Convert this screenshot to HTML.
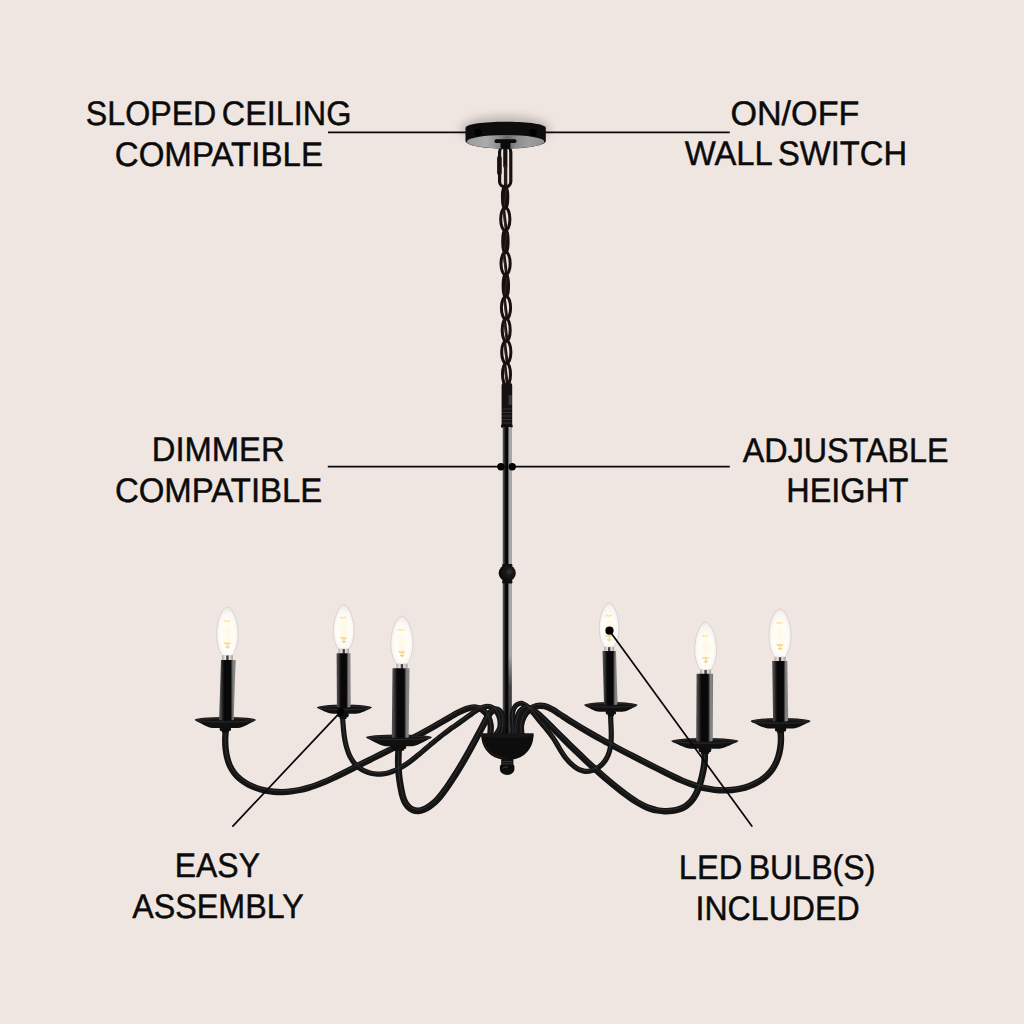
<!DOCTYPE html>
<html lang="en"><head><meta charset="utf-8"><title>Chandelier features</title>
<style>
html,body{margin:0;padding:0;background:#efe6e1;}
body{width:1024px;height:1024px;overflow:hidden;font-family:"Liberation Sans",Arial,sans-serif;}
svg{display:block;}
</style></head><body>
<svg width="1024" height="1024" viewBox="0 0 1024 1024">
<defs>
<radialGradient id="glow" cx="50%" cy="58%" r="55%">
<stop offset="0" stop-color="#ffffff"/><stop offset="0.55" stop-color="#fffefb"/><stop offset="0.85" stop-color="#f8f5f2"/><stop offset="1" stop-color="#efeae6"/>
</radialGradient>
<radialGradient id="fil" cx="50%" cy="50%" r="50%">
<stop offset="0" stop-color="#fff1c0" stop-opacity="0.45"/><stop offset="0.6" stop-color="#fff4d0" stop-opacity="0.25"/><stop offset="1" stop-color="#fff8e0" stop-opacity="0"/>
</radialGradient>
<linearGradient id="metal" x1="0" x2="1" y1="0" y2="0">
<stop offset="0" stop-color="#a9a6a3"/><stop offset="0.35" stop-color="#f3f1ef"/><stop offset="0.75" stop-color="#d9d6d3"/><stop offset="1" stop-color="#9b9896"/>
</linearGradient>
<linearGradient id="sleeve" x1="0" x2="1" y1="0" y2="0">
<stop offset="0" stop-color="#525252"/><stop offset="0.10" stop-color="#464646"/><stop offset="0.24" stop-color="#1a1a1a"/><stop offset="0.32" stop-color="#080808"/><stop offset="0.70" stop-color="#080808"/><stop offset="0.77" stop-color="#454545"/><stop offset="0.84" stop-color="#808080"/><stop offset="0.95" stop-color="#858585"/><stop offset="1" stop-color="#666"/>
</linearGradient>
<linearGradient id="rod" x1="0" x2="1" y1="0" y2="0">
<stop offset="0" stop-color="#555553"/><stop offset="0.12" stop-color="#484848"/><stop offset="0.26" stop-color="#1a1a1a"/><stop offset="0.36" stop-color="#060606"/><stop offset="0.56" stop-color="#050505"/><stop offset="0.63" stop-color="#4a4a4c"/><stop offset="0.71" stop-color="#9fa0a2"/><stop offset="0.88" stop-color="#a4a5a7"/><stop offset="0.95" stop-color="#858585"/><stop offset="1" stop-color="#7a7a7a"/>
</linearGradient>
<radialGradient id="ball" cx="62%" cy="42%" r="60%"><stop offset="0" stop-color="#3a3a3a"/><stop offset="0.35" stop-color="#191919"/><stop offset="1" stop-color="#0b0b0b"/></radialGradient>
<linearGradient id="rodfade" x1="0" x2="0" y1="0" y2="1"><stop offset="0" stop-color="#0a0a0a" stop-opacity="0"/><stop offset="0.4" stop-color="#0a0a0a" stop-opacity="0.62"/><stop offset="1" stop-color="#0a0a0a" stop-opacity="0.7"/></linearGradient>
<linearGradient id="face" x1="0" x2="1" y1="0" y2="0">
<stop offset="0" stop-color="#98999b"/><stop offset="0.25" stop-color="#abacae"/><stop offset="0.42" stop-color="#8a8b8d"/><stop offset="0.52" stop-color="#66676a"/><stop offset="0.64" stop-color="#8c8d8f"/><stop offset="0.8" stop-color="#9c9d9f"/><stop offset="1" stop-color="#8f9092"/>
</linearGradient>
<filter id="soft" x="-50%" y="-50%" width="200%" height="200%"><feGaussianBlur stdDeviation="0.55"/></filter>
<filter id="blur" x="-30%" y="-100%" width="160%" height="300%"><feGaussianBlur stdDeviation="5"/></filter>
</defs>
<rect width="1024" height="1024" fill="#efe6e1"/>
<ellipse cx="505.5" cy="129" rx="45" ry="13" fill="#5f5650" opacity="0.34" filter="url(#blur)"/>
<g stroke="#0a0a0a" stroke-width="1.65" fill="none">
<line x1="328" y1="132.4" x2="478" y2="132.4"/>
<line x1="533.2" y1="132.4" x2="729.8" y2="132.4"/>
<line x1="327.8" y1="466.6" x2="500" y2="466.6"/>
<line x1="512" y1="466.6" x2="729.8" y2="466.6"/>
</g>
<g stroke="#15110f" fill="none" stroke-linecap="round">
<rect x="499.6" y="146.5" width="11.2" height="40.5" rx="5.4" stroke-width="3.2"/>
<line x1="499.4" y1="158" x2="499.4" y2="173" stroke-width="4.6"/>
<line x1="505.3" y1="146" x2="505.3" y2="166" stroke-width="4.2"/>
<line x1="505.6" y1="166" x2="505.6" y2="185" stroke-width="3.4" stroke="#2a1d17"/>
<ellipse cx="505.1" cy="197.1" rx="2.5" ry="11.2" stroke-width="3.4" fill="#15110f"/>
<line x1="506.3" y1="189.1" x2="504.3" y2="205.1" stroke-width="1.0" stroke="#4a2c1f" opacity="0.8"/>
<ellipse cx="505.3" cy="219.2" rx="4.6" ry="11.4" stroke-width="3.0"/>
<line x1="503.7" y1="209.2" x2="506.1" y2="229.2" stroke-width="2.8" stroke="#1c1411"/>
<line x1="503.1" y1="212.2" x2="505.1" y2="226.2" stroke-width="0.9" stroke="#5a3323" opacity="0.75"/>
<ellipse cx="505.4" cy="241.4" rx="2.5" ry="11.2" stroke-width="3.4" fill="#15110f"/>
<line x1="506.6" y1="233.4" x2="504.6" y2="249.4" stroke-width="1.0" stroke="#4a2c1f" opacity="0.8"/>
<ellipse cx="505.6" cy="263.5" rx="4.6" ry="11.4" stroke-width="3.0"/>
<line x1="504.0" y1="253.5" x2="506.4" y2="273.5" stroke-width="2.8" stroke="#1c1411"/>
<line x1="503.4" y1="256.5" x2="505.4" y2="270.5" stroke-width="0.9" stroke="#5a3323" opacity="0.75"/>
<ellipse cx="505.8" cy="285.7" rx="2.5" ry="11.2" stroke-width="3.4" fill="#15110f"/>
<line x1="507.0" y1="277.7" x2="505.0" y2="293.7" stroke-width="1.0" stroke="#4a2c1f" opacity="0.8"/>
<ellipse cx="506.0" cy="307.8" rx="4.6" ry="11.4" stroke-width="3.0"/>
<line x1="504.4" y1="297.8" x2="506.8" y2="317.8" stroke-width="2.8" stroke="#1c1411"/>
<line x1="503.8" y1="300.8" x2="505.8" y2="314.8" stroke-width="0.9" stroke="#5a3323" opacity="0.75"/>
<ellipse cx="506.2" cy="330.0" rx="4.0" ry="11.4" stroke-width="3.0"/>
<line x1="504.6" y1="320.0" x2="507.0" y2="340.0" stroke-width="2.8" stroke="#1c1411"/>
<line x1="504.0" y1="323.0" x2="506.0" y2="337.0" stroke-width="0.9" stroke="#5a3323" opacity="0.75"/>
<ellipse cx="506.3" cy="352.1" rx="4.6" ry="11.4" stroke-width="3.0"/>
<line x1="504.7" y1="342.1" x2="507.1" y2="362.1" stroke-width="2.8" stroke="#1c1411"/>
<line x1="504.1" y1="345.1" x2="506.1" y2="359.1" stroke-width="0.9" stroke="#5a3323" opacity="0.75"/>
<ellipse cx="506.5" cy="374.3" rx="4.0" ry="11.4" stroke-width="3.0"/>
<line x1="504.9" y1="364.3" x2="507.3" y2="384.3" stroke-width="2.8" stroke="#1c1411"/>
<line x1="504.3" y1="367.3" x2="506.3" y2="381.3" stroke-width="0.9" stroke="#5a3323" opacity="0.75"/>
</g>
<rect x="495" y="139.5" width="21" height="3.6" rx="1.5" fill="#0c0c0c"/>
<rect x="501" y="141" width="9" height="8" rx="2" fill="#0c0c0c"/>
<path d="M465.5 128 C465.5 124 485 121.8 505.5 121.8 C526 121.8 545.8 124 545.8 128 L545.8 141 C545.8 145.5 526 148.6 505.5 148.6 C485 148.6 465.5 145.5 465.5 141 Z" fill="#0d0d0d"/>
<ellipse cx="505.6" cy="141.7" rx="38.8" ry="6.75" fill="url(#face)"/>
<rect x="494.5" y="139.3" width="22" height="3.8" rx="1.8" fill="#0a0a0a"/>
<rect x="500.5" y="141" width="10" height="8" rx="2" fill="#0a0a0a"/>
<circle cx="478" cy="132.4" r="3.7" fill="#000"/><circle cx="533.2" cy="132.4" r="3.7" fill="#000"/>
<rect x="501.6" y="383" width="10.6" height="44.5" rx="2" fill="#141312"/>
<rect x="508.5" y="395" width="3.4" height="10" fill="#3b3936"/>
<g stroke="#45423f" stroke-width="0.7">
<line x1="502.5" y1="409.0" x2="511.5" y2="409.0"/>
<line x1="502.5" y1="412.5" x2="511.5" y2="412.5"/>
<line x1="502.5" y1="416.0" x2="511.5" y2="416.0"/>
<line x1="502.5" y1="419.5" x2="511.5" y2="419.5"/>
<line x1="502.5" y1="423.0" x2="511.5" y2="423.0"/>
</g>
<rect x="501" y="424.5" width="11.6" height="3.2" rx="1" fill="#0e0e0e"/>
<rect x="502.7" y="427" width="8.9" height="307" fill="url(#rod)"/>
<rect x="506.8" y="655" width="5" height="79" fill="url(#rodfade)"/>
<rect x="502.2" y="564" width="10.2" height="3" rx="1" fill="#101010"/><rect x="502.2" y="580" width="10.2" height="3.4" rx="1" fill="#101010"/>
<ellipse cx="507.25" cy="573.1" rx="8.6" ry="8.4" fill="url(#ball)"/>
<circle cx="500.9" cy="466.7" r="3.7" fill="#000"/><circle cx="512.2" cy="466.7" r="3.7" fill="#000"/>
<g fill="none" stroke="#141414" stroke-linecap="round" stroke-linejoin="round">
<path d="M496.15 734.02 C496.70 733.13 498.76 730.63 499.43 728.67 C500.09 726.71 500.27 724.41 500.15 722.27 C500.03 720.13 499.48 717.81 498.71 715.84 C497.94 713.86 496.81 711.88 495.51 710.42 C494.22 708.95 492.63 707.68 490.95 707.04 C489.27 706.41 487.32 706.35 485.44 706.61 C483.57 706.88 481.55 707.76 479.69 708.65 C477.84 709.54 476.06 710.78 474.31 711.95 C472.55 713.13 470.87 714.47 469.15 715.71 C467.44 716.96 465.73 718.19 464.03 719.41 C462.33 720.62 460.62 721.81 458.93 723.00 C457.24 724.19 455.56 725.37 453.89 726.55 C452.21 727.74 450.55 728.91 448.91 730.11 C447.26 731.30 445.63 732.49 444.02 733.71 C442.41 734.93 440.82 736.16 439.25 737.41 C437.67 738.66 436.13 739.93 434.57 741.22 C433.02 742.50 431.49 743.81 429.94 745.12 C428.39 746.43 426.85 747.76 425.28 749.09 C423.71 750.43 422.14 751.77 420.54 753.11 C418.93 754.45 417.31 755.82 415.66 757.14 C414.00 758.47 412.32 759.80 410.62 761.06 C408.91 762.32 407.18 763.57 405.42 764.72 C403.67 765.88 401.88 766.99 400.07 767.98 C398.26 768.98 396.41 769.91 394.55 770.69 C392.68 771.48 390.78 772.18 388.85 772.71 C386.93 773.24 384.97 773.66 382.99 773.89 C381.00 774.11 378.97 774.19 376.94 774.08 C374.92 773.96 372.83 773.66 370.83 773.19 C368.83 772.71 366.82 772.05 364.94 771.21 C363.07 770.38 361.23 769.36 359.59 768.17 C357.94 766.97 356.42 765.58 355.06 764.05 C353.71 762.53 352.52 760.81 351.46 759.03 C350.39 757.25 349.48 755.32 348.67 753.38 C347.86 751.44 347.19 749.40 346.60 747.39 C346.02 745.38 345.55 743.34 345.15 741.34 C344.74 739.33 344.44 737.35 344.17 735.36 C343.90 733.36 343.71 731.38 343.51 729.37 C343.32 727.36 343.18 725.35 343.01 723.28 C342.84 721.22 342.59 718.05 342.50 717.00" stroke-width="5.2"/>
<path d="M513.00 733.93 C513.02 733.16 513.19 730.98 513.14 729.32 C513.09 727.65 512.84 725.78 512.70 723.94 C512.56 722.10 512.33 720.13 512.31 718.27 C512.29 716.41 512.28 714.50 512.58 712.78 C512.88 711.06 513.33 709.36 514.13 707.96 C514.94 706.56 516.15 705.15 517.42 704.38 C518.69 703.60 520.31 703.09 521.77 703.30 C523.23 703.52 524.77 704.64 526.16 705.67 C527.55 706.69 528.87 708.17 530.11 709.46 C531.35 710.75 532.48 712.09 533.61 713.42 C534.73 714.75 535.78 716.11 536.86 717.46 C537.94 718.81 538.99 720.17 540.09 721.52 C541.18 722.87 542.31 724.22 543.43 725.57 C544.55 726.92 545.69 728.27 546.80 729.63 C547.90 730.98 549.01 732.35 550.06 733.73 C551.11 735.11 552.12 736.50 553.08 737.91 C554.03 739.32 554.91 740.75 555.78 742.19 C556.66 743.63 557.48 745.08 558.33 746.53 C559.19 747.98 560.01 749.44 560.91 750.88 C561.81 752.33 562.71 753.77 563.71 755.19 C564.71 756.61 565.76 758.04 566.91 759.40 C568.07 760.77 569.32 762.15 570.63 763.40 C571.94 764.64 573.34 765.85 574.78 766.88 C576.23 767.91 577.74 768.85 579.29 769.56 C580.83 770.26 582.43 770.84 584.04 771.12 C585.64 771.41 587.31 771.47 588.94 771.27 C590.57 771.07 592.25 770.57 593.84 769.92 C595.42 769.26 597.01 768.36 598.45 767.35 C599.90 766.34 601.29 765.13 602.50 763.87 C603.71 762.61 604.79 761.22 605.72 759.79 C606.65 758.36 607.41 756.84 608.07 755.28 C608.73 753.72 609.25 752.09 609.68 750.43 C610.11 748.77 610.42 747.06 610.66 745.33 C610.91 743.60 611.05 741.82 611.15 740.05 C611.26 738.28 611.28 736.48 611.28 734.69 C611.28 732.90 611.22 731.10 611.17 729.32 C611.11 727.55 611.01 725.78 610.94 724.05 C610.86 722.32 610.77 720.60 610.72 718.94 C610.67 717.28 610.66 714.89 610.65 714.09" stroke-width="5.2"/>
<path d="M490.39 734.07 C490.43 732.57 491.05 728.06 490.65 725.11 C490.24 722.15 489.34 718.86 487.96 716.32 C486.58 713.78 484.56 711.35 482.37 709.86 C480.17 708.37 477.47 707.54 474.78 707.38 C472.09 707.22 469.05 708.03 466.22 708.92 C463.39 709.81 460.49 711.32 457.78 712.70 C455.08 714.08 452.55 715.69 449.99 717.18 C447.42 718.67 444.93 720.16 442.41 721.62 C439.89 723.07 437.39 724.50 434.86 725.93 C432.33 727.35 429.80 728.77 427.24 730.18 C424.67 731.59 422.09 733.00 419.49 734.40 C416.90 735.80 414.28 737.20 411.66 738.58 C409.04 739.97 406.41 741.34 403.78 742.71 C401.15 744.07 398.52 745.43 395.89 746.77 C393.26 748.11 390.63 749.43 388.02 750.75 C385.40 752.06 382.79 753.35 380.19 754.65 C377.58 755.95 374.98 757.23 372.38 758.52 C369.77 759.81 367.17 761.10 364.56 762.41 C361.95 763.71 359.34 765.03 356.72 766.36 C354.09 767.69 351.46 769.05 348.82 770.39 C346.18 771.73 343.52 773.08 340.86 774.39 C338.19 775.70 335.51 777.01 332.82 778.26 C330.13 779.51 327.42 780.73 324.70 781.87 C321.98 783.01 319.24 784.12 316.48 785.12 C313.72 786.12 310.95 787.05 308.15 787.87 C305.36 788.69 302.55 789.43 299.71 790.03 C296.87 790.63 294.02 791.13 291.13 791.47 C288.25 791.81 285.35 792.03 282.42 792.08 C279.49 792.12 276.52 792.03 273.56 791.74 C270.59 791.45 267.56 791.00 264.63 790.35 C261.69 789.71 258.73 788.89 255.93 787.87 C253.12 786.85 250.35 785.65 247.78 784.24 C245.22 782.83 242.74 781.23 240.53 779.41 C238.31 777.60 236.24 775.58 234.49 773.34 C232.73 771.11 231.21 768.62 229.98 765.99 C228.75 763.36 227.83 760.46 227.10 757.55 C226.37 754.64 225.92 751.55 225.60 748.54 C225.29 745.54 225.20 742.44 225.21 739.53 C225.23 736.61 225.59 732.46 225.67 731.05" stroke-width="6.3"/>
<path d="M521.29 734.09 C521.24 732.64 520.58 728.28 521.00 725.36 C521.42 722.45 522.43 719.23 523.81 716.62 C525.18 714.01 527.12 711.47 529.26 709.72 C531.40 707.96 534.07 706.68 536.64 706.09 C539.20 705.50 542.02 705.60 544.65 706.17 C547.28 706.73 549.88 708.13 552.43 709.50 C554.98 710.87 557.47 712.76 559.95 714.38 C562.42 716.00 564.84 717.66 567.27 719.23 C569.70 720.80 572.11 722.31 574.55 723.82 C576.98 725.32 579.43 726.81 581.89 728.28 C584.35 729.74 586.83 731.19 589.32 732.63 C591.80 734.07 594.30 735.49 596.81 736.89 C599.31 738.30 601.83 739.69 604.35 741.08 C606.88 742.46 609.41 743.83 611.95 745.19 C614.50 746.55 617.04 747.90 619.60 749.24 C622.15 750.58 624.71 751.91 627.28 753.24 C629.84 754.57 632.41 755.89 634.98 757.21 C637.55 758.53 640.13 759.84 642.71 761.15 C645.28 762.46 647.86 763.77 650.44 765.08 C653.02 766.38 655.60 767.69 658.18 769.00 C660.76 770.30 663.34 771.63 665.92 772.92 C668.50 774.21 671.09 775.51 673.69 776.74 C676.29 777.98 678.89 779.20 681.53 780.34 C684.16 781.48 686.81 782.59 689.49 783.58 C692.17 784.58 694.87 785.52 697.62 786.33 C700.36 787.14 703.14 787.86 705.96 788.44 C708.78 789.02 711.65 789.49 714.53 789.81 C717.40 790.12 720.32 790.32 723.22 790.34 C726.12 790.37 729.04 790.25 731.93 789.96 C734.82 789.67 737.71 789.23 740.54 788.60 C743.38 787.97 746.22 787.17 748.94 786.17 C751.66 785.18 754.35 784.01 756.87 782.64 C759.39 781.27 761.83 779.71 764.04 777.95 C766.26 776.19 768.34 774.23 770.16 772.07 C771.97 769.91 773.58 767.50 774.93 764.97 C776.28 762.44 777.38 759.66 778.26 756.87 C779.15 754.08 779.80 751.12 780.25 748.21 C780.71 745.31 780.94 742.31 780.99 739.45 C781.05 736.59 780.65 732.43 780.58 731.03" stroke-width="6.4"/>
<path d="M501.17 733.94 C501.39 733.04 502.15 730.51 502.46 728.54 C502.76 726.57 503.08 724.23 503.01 722.11 C502.95 719.99 502.72 717.67 502.06 715.80 C501.39 713.94 500.25 711.94 499.00 710.93 C497.76 709.92 496.04 709.43 494.59 709.74 C493.13 710.05 491.54 711.44 490.28 712.79 C489.02 714.14 488.06 716.10 487.04 717.85 C486.02 719.61 485.11 721.51 484.16 723.32 C483.21 725.13 482.26 726.93 481.32 728.71 C480.38 730.49 479.44 732.26 478.51 734.02 C477.57 735.78 476.64 737.53 475.70 739.27 C474.77 741.01 473.84 742.74 472.90 744.46 C471.97 746.18 471.03 747.88 470.08 749.59 C469.14 751.29 468.19 752.98 467.24 754.67 C466.28 756.36 465.32 758.04 464.35 759.71 C463.38 761.39 462.40 763.05 461.41 764.72 C460.41 766.38 459.41 768.04 458.39 769.70 C457.38 771.35 456.35 773.01 455.30 774.66 C454.25 776.31 453.19 777.95 452.10 779.60 C451.02 781.25 449.92 782.89 448.80 784.54 C447.68 786.18 446.54 787.84 445.37 789.47 C444.20 791.10 443.01 792.75 441.77 794.33 C440.52 795.90 439.25 797.46 437.91 798.92 C436.57 800.38 435.19 801.79 433.72 803.08 C432.25 804.36 430.73 805.57 429.11 806.61 C427.49 807.66 425.78 808.64 423.99 809.35 C422.20 810.07 420.25 810.82 418.36 810.91 C416.47 811.00 414.41 810.64 412.66 809.89 C410.91 809.14 409.21 807.80 407.87 806.42 C406.53 805.04 405.51 803.33 404.63 801.59 C403.74 799.84 403.14 797.87 402.57 795.93 C402.01 793.99 401.64 791.93 401.24 789.95 C400.84 787.98 400.51 786.03 400.20 784.10 C399.88 782.17 399.58 780.31 399.33 778.40 C399.09 776.49 398.88 774.58 398.72 772.64 C398.56 770.69 398.45 768.71 398.38 766.73 C398.31 764.75 398.28 762.74 398.28 760.76 C398.29 758.77 398.33 756.78 398.40 754.82 C398.47 752.86 398.65 749.97 398.70 749.00" stroke-width="6.7"/>
<path d="M516.05 734.03 C516.02 732.92 515.71 729.88 515.89 727.37 C516.08 724.86 516.43 721.59 517.16 718.97 C517.88 716.36 518.86 713.48 520.23 711.68 C521.61 709.89 523.50 708.57 525.41 708.22 C527.32 707.87 529.59 708.59 531.70 709.58 C533.80 710.56 536.00 712.47 538.02 714.11 C540.04 715.74 541.99 717.66 543.84 719.40 C545.69 721.14 547.41 722.84 549.14 724.55 C550.88 726.26 552.55 727.95 554.25 729.66 C555.96 731.36 557.66 733.07 559.38 734.77 C561.09 736.48 562.81 738.19 564.54 739.90 C566.26 741.61 568.00 743.32 569.74 745.03 C571.48 746.74 573.23 748.45 574.98 750.15 C576.74 751.85 578.50 753.55 580.28 755.24 C582.05 756.94 583.84 758.63 585.63 760.31 C587.42 761.99 589.22 763.66 591.04 765.33 C592.85 766.99 594.68 768.65 596.51 770.30 C598.35 771.94 600.20 773.58 602.05 775.20 C603.91 776.82 605.79 778.43 607.67 780.02 C609.56 781.62 611.45 783.20 613.36 784.77 C615.28 786.33 617.20 787.88 619.14 789.41 C621.08 790.94 623.03 792.46 625.01 793.94 C626.98 795.42 628.96 796.90 630.99 798.29 C633.01 799.68 635.05 801.04 637.14 802.28 C639.23 803.52 641.35 804.71 643.53 805.74 C645.71 806.78 647.93 807.73 650.22 808.50 C652.51 809.27 654.86 809.93 657.27 810.38 C659.68 810.83 662.21 811.12 664.71 811.20 C667.21 811.27 669.82 811.17 672.29 810.82 C674.76 810.47 677.26 809.92 679.55 809.10 C681.83 808.28 684.06 807.24 686.02 805.92 C687.99 804.59 689.75 802.97 691.32 801.17 C692.88 799.37 694.21 797.29 695.41 795.13 C696.62 792.97 697.62 790.60 698.53 788.23 C699.44 785.87 700.18 783.36 700.86 780.93 C701.55 778.50 702.11 776.05 702.62 773.67 C703.14 771.29 703.59 769.01 703.93 766.67 C704.27 764.32 704.55 762.03 704.67 759.59 C704.80 757.14 704.69 753.25 704.70 751.98" stroke-width="6.6"/>
</g>
<g fill="none" stroke="#3c3c3c" stroke-linecap="round" stroke-width="0.9" opacity="0.8">
<path d="M496.15 734.02 C496.70 733.13 498.76 730.63 499.43 728.67 C500.09 726.71 500.27 724.41 500.15 722.27 C500.03 720.13 499.48 717.81 498.71 715.84 C497.94 713.86 496.81 711.88 495.51 710.42 C494.22 708.95 492.63 707.68 490.95 707.04 C489.27 706.41 487.32 706.35 485.44 706.61 C483.57 706.88 481.55 707.76 479.69 708.65 C477.84 709.54 476.06 710.78 474.31 711.95 C472.55 713.13 470.87 714.47 469.15 715.71 C467.44 716.96 465.73 718.19 464.03 719.41 C462.33 720.62 460.62 721.81 458.93 723.00 C457.24 724.19 455.56 725.37 453.89 726.55 C452.21 727.74 450.55 728.91 448.91 730.11 C447.26 731.30 445.63 732.49 444.02 733.71 C442.41 734.93 440.82 736.16 439.25 737.41 C437.67 738.66 436.13 739.93 434.57 741.22 C433.02 742.50 431.49 743.81 429.94 745.12 C428.39 746.43 426.85 747.76 425.28 749.09 C423.71 750.43 422.14 751.77 420.54 753.11 C418.93 754.45 417.31 755.82 415.66 757.14 C414.00 758.47 412.32 759.80 410.62 761.06 C408.91 762.32 407.18 763.57 405.42 764.72 C403.67 765.88 401.88 766.99 400.07 767.98 C398.26 768.98 396.41 769.91 394.55 770.69 C392.68 771.48 390.78 772.18 388.85 772.71 C386.93 773.24 384.97 773.66 382.99 773.89 C381.00 774.11 378.97 774.19 376.94 774.08 C374.92 773.96 372.83 773.66 370.83 773.19 C368.83 772.71 366.82 772.05 364.94 771.21 C363.07 770.38 361.23 769.36 359.59 768.17 C357.94 766.97 356.42 765.58 355.06 764.05 C353.71 762.53 352.52 760.81 351.46 759.03 C350.39 757.25 349.48 755.32 348.67 753.38 C347.86 751.44 347.19 749.40 346.60 747.39 C346.02 745.38 345.55 743.34 345.15 741.34 C344.74 739.33 344.44 737.35 344.17 735.36 C343.90 733.36 343.71 731.38 343.51 729.37 C343.32 727.36 343.18 725.35 343.01 723.28 C342.84 721.22 342.59 718.05 342.50 717.00" transform="translate(0,-1.1)"/>
<path d="M513.00 733.93 C513.02 733.16 513.19 730.98 513.14 729.32 C513.09 727.65 512.84 725.78 512.70 723.94 C512.56 722.10 512.33 720.13 512.31 718.27 C512.29 716.41 512.28 714.50 512.58 712.78 C512.88 711.06 513.33 709.36 514.13 707.96 C514.94 706.56 516.15 705.15 517.42 704.38 C518.69 703.60 520.31 703.09 521.77 703.30 C523.23 703.52 524.77 704.64 526.16 705.67 C527.55 706.69 528.87 708.17 530.11 709.46 C531.35 710.75 532.48 712.09 533.61 713.42 C534.73 714.75 535.78 716.11 536.86 717.46 C537.94 718.81 538.99 720.17 540.09 721.52 C541.18 722.87 542.31 724.22 543.43 725.57 C544.55 726.92 545.69 728.27 546.80 729.63 C547.90 730.98 549.01 732.35 550.06 733.73 C551.11 735.11 552.12 736.50 553.08 737.91 C554.03 739.32 554.91 740.75 555.78 742.19 C556.66 743.63 557.48 745.08 558.33 746.53 C559.19 747.98 560.01 749.44 560.91 750.88 C561.81 752.33 562.71 753.77 563.71 755.19 C564.71 756.61 565.76 758.04 566.91 759.40 C568.07 760.77 569.32 762.15 570.63 763.40 C571.94 764.64 573.34 765.85 574.78 766.88 C576.23 767.91 577.74 768.85 579.29 769.56 C580.83 770.26 582.43 770.84 584.04 771.12 C585.64 771.41 587.31 771.47 588.94 771.27 C590.57 771.07 592.25 770.57 593.84 769.92 C595.42 769.26 597.01 768.36 598.45 767.35 C599.90 766.34 601.29 765.13 602.50 763.87 C603.71 762.61 604.79 761.22 605.72 759.79 C606.65 758.36 607.41 756.84 608.07 755.28 C608.73 753.72 609.25 752.09 609.68 750.43 C610.11 748.77 610.42 747.06 610.66 745.33 C610.91 743.60 611.05 741.82 611.15 740.05 C611.26 738.28 611.28 736.48 611.28 734.69 C611.28 732.90 611.22 731.10 611.17 729.32 C611.11 727.55 611.01 725.78 610.94 724.05 C610.86 722.32 610.77 720.60 610.72 718.94 C610.67 717.28 610.66 714.89 610.65 714.09" transform="translate(0,-1.1)"/>
<path d="M490.39 734.07 C490.43 732.57 491.05 728.06 490.65 725.11 C490.24 722.15 489.34 718.86 487.96 716.32 C486.58 713.78 484.56 711.35 482.37 709.86 C480.17 708.37 477.47 707.54 474.78 707.38 C472.09 707.22 469.05 708.03 466.22 708.92 C463.39 709.81 460.49 711.32 457.78 712.70 C455.08 714.08 452.55 715.69 449.99 717.18 C447.42 718.67 444.93 720.16 442.41 721.62 C439.89 723.07 437.39 724.50 434.86 725.93 C432.33 727.35 429.80 728.77 427.24 730.18 C424.67 731.59 422.09 733.00 419.49 734.40 C416.90 735.80 414.28 737.20 411.66 738.58 C409.04 739.97 406.41 741.34 403.78 742.71 C401.15 744.07 398.52 745.43 395.89 746.77 C393.26 748.11 390.63 749.43 388.02 750.75 C385.40 752.06 382.79 753.35 380.19 754.65 C377.58 755.95 374.98 757.23 372.38 758.52 C369.77 759.81 367.17 761.10 364.56 762.41 C361.95 763.71 359.34 765.03 356.72 766.36 C354.09 767.69 351.46 769.05 348.82 770.39 C346.18 771.73 343.52 773.08 340.86 774.39 C338.19 775.70 335.51 777.01 332.82 778.26 C330.13 779.51 327.42 780.73 324.70 781.87 C321.98 783.01 319.24 784.12 316.48 785.12 C313.72 786.12 310.95 787.05 308.15 787.87 C305.36 788.69 302.55 789.43 299.71 790.03 C296.87 790.63 294.02 791.13 291.13 791.47 C288.25 791.81 285.35 792.03 282.42 792.08 C279.49 792.12 276.52 792.03 273.56 791.74 C270.59 791.45 267.56 791.00 264.63 790.35 C261.69 789.71 258.73 788.89 255.93 787.87 C253.12 786.85 250.35 785.65 247.78 784.24 C245.22 782.83 242.74 781.23 240.53 779.41 C238.31 777.60 236.24 775.58 234.49 773.34 C232.73 771.11 231.21 768.62 229.98 765.99 C228.75 763.36 227.83 760.46 227.10 757.55 C226.37 754.64 225.92 751.55 225.60 748.54 C225.29 745.54 225.20 742.44 225.21 739.53 C225.23 736.61 225.59 732.46 225.67 731.05" transform="translate(0,-1.4)"/>
<path d="M521.29 734.09 C521.24 732.64 520.58 728.28 521.00 725.36 C521.42 722.45 522.43 719.23 523.81 716.62 C525.18 714.01 527.12 711.47 529.26 709.72 C531.40 707.96 534.07 706.68 536.64 706.09 C539.20 705.50 542.02 705.60 544.65 706.17 C547.28 706.73 549.88 708.13 552.43 709.50 C554.98 710.87 557.47 712.76 559.95 714.38 C562.42 716.00 564.84 717.66 567.27 719.23 C569.70 720.80 572.11 722.31 574.55 723.82 C576.98 725.32 579.43 726.81 581.89 728.28 C584.35 729.74 586.83 731.19 589.32 732.63 C591.80 734.07 594.30 735.49 596.81 736.89 C599.31 738.30 601.83 739.69 604.35 741.08 C606.88 742.46 609.41 743.83 611.95 745.19 C614.50 746.55 617.04 747.90 619.60 749.24 C622.15 750.58 624.71 751.91 627.28 753.24 C629.84 754.57 632.41 755.89 634.98 757.21 C637.55 758.53 640.13 759.84 642.71 761.15 C645.28 762.46 647.86 763.77 650.44 765.08 C653.02 766.38 655.60 767.69 658.18 769.00 C660.76 770.30 663.34 771.63 665.92 772.92 C668.50 774.21 671.09 775.51 673.69 776.74 C676.29 777.98 678.89 779.20 681.53 780.34 C684.16 781.48 686.81 782.59 689.49 783.58 C692.17 784.58 694.87 785.52 697.62 786.33 C700.36 787.14 703.14 787.86 705.96 788.44 C708.78 789.02 711.65 789.49 714.53 789.81 C717.40 790.12 720.32 790.32 723.22 790.34 C726.12 790.37 729.04 790.25 731.93 789.96 C734.82 789.67 737.71 789.23 740.54 788.60 C743.38 787.97 746.22 787.17 748.94 786.17 C751.66 785.18 754.35 784.01 756.87 782.64 C759.39 781.27 761.83 779.71 764.04 777.95 C766.26 776.19 768.34 774.23 770.16 772.07 C771.97 769.91 773.58 767.50 774.93 764.97 C776.28 762.44 777.38 759.66 778.26 756.87 C779.15 754.08 779.80 751.12 780.25 748.21 C780.71 745.31 780.94 742.31 780.99 739.45 C781.05 736.59 780.65 732.43 780.58 731.03" transform="translate(0,-1.4)"/>
<path d="M501.17 733.94 C501.39 733.04 502.15 730.51 502.46 728.54 C502.76 726.57 503.08 724.23 503.01 722.11 C502.95 719.99 502.72 717.67 502.06 715.80 C501.39 713.94 500.25 711.94 499.00 710.93 C497.76 709.92 496.04 709.43 494.59 709.74 C493.13 710.05 491.54 711.44 490.28 712.79 C489.02 714.14 488.06 716.10 487.04 717.85 C486.02 719.61 485.11 721.51 484.16 723.32 C483.21 725.13 482.26 726.93 481.32 728.71 C480.38 730.49 479.44 732.26 478.51 734.02 C477.57 735.78 476.64 737.53 475.70 739.27 C474.77 741.01 473.84 742.74 472.90 744.46 C471.97 746.18 471.03 747.88 470.08 749.59 C469.14 751.29 468.19 752.98 467.24 754.67 C466.28 756.36 465.32 758.04 464.35 759.71 C463.38 761.39 462.40 763.05 461.41 764.72 C460.41 766.38 459.41 768.04 458.39 769.70 C457.38 771.35 456.35 773.01 455.30 774.66 C454.25 776.31 453.19 777.95 452.10 779.60 C451.02 781.25 449.92 782.89 448.80 784.54 C447.68 786.18 446.54 787.84 445.37 789.47 C444.20 791.10 443.01 792.75 441.77 794.33 C440.52 795.90 439.25 797.46 437.91 798.92 C436.57 800.38 435.19 801.79 433.72 803.08 C432.25 804.36 430.73 805.57 429.11 806.61 C427.49 807.66 425.78 808.64 423.99 809.35 C422.20 810.07 420.25 810.82 418.36 810.91 C416.47 811.00 414.41 810.64 412.66 809.89 C410.91 809.14 409.21 807.80 407.87 806.42 C406.53 805.04 405.51 803.33 404.63 801.59 C403.74 799.84 403.14 797.87 402.57 795.93 C402.01 793.99 401.64 791.93 401.24 789.95 C400.84 787.98 400.51 786.03 400.20 784.10 C399.88 782.17 399.58 780.31 399.33 778.40 C399.09 776.49 398.88 774.58 398.72 772.64 C398.56 770.69 398.45 768.71 398.38 766.73 C398.31 764.75 398.28 762.74 398.28 760.76 C398.29 758.77 398.33 756.78 398.40 754.82 C398.47 752.86 398.65 749.97 398.70 749.00" transform="translate(0,-1.5)"/>
<path d="M516.05 734.03 C516.02 732.92 515.71 729.88 515.89 727.37 C516.08 724.86 516.43 721.59 517.16 718.97 C517.88 716.36 518.86 713.48 520.23 711.68 C521.61 709.89 523.50 708.57 525.41 708.22 C527.32 707.87 529.59 708.59 531.70 709.58 C533.80 710.56 536.00 712.47 538.02 714.11 C540.04 715.74 541.99 717.66 543.84 719.40 C545.69 721.14 547.41 722.84 549.14 724.55 C550.88 726.26 552.55 727.95 554.25 729.66 C555.96 731.36 557.66 733.07 559.38 734.77 C561.09 736.48 562.81 738.19 564.54 739.90 C566.26 741.61 568.00 743.32 569.74 745.03 C571.48 746.74 573.23 748.45 574.98 750.15 C576.74 751.85 578.50 753.55 580.28 755.24 C582.05 756.94 583.84 758.63 585.63 760.31 C587.42 761.99 589.22 763.66 591.04 765.33 C592.85 766.99 594.68 768.65 596.51 770.30 C598.35 771.94 600.20 773.58 602.05 775.20 C603.91 776.82 605.79 778.43 607.67 780.02 C609.56 781.62 611.45 783.20 613.36 784.77 C615.28 786.33 617.20 787.88 619.14 789.41 C621.08 790.94 623.03 792.46 625.01 793.94 C626.98 795.42 628.96 796.90 630.99 798.29 C633.01 799.68 635.05 801.04 637.14 802.28 C639.23 803.52 641.35 804.71 643.53 805.74 C645.71 806.78 647.93 807.73 650.22 808.50 C652.51 809.27 654.86 809.93 657.27 810.38 C659.68 810.83 662.21 811.12 664.71 811.20 C667.21 811.27 669.82 811.17 672.29 810.82 C674.76 810.47 677.26 809.92 679.55 809.10 C681.83 808.28 684.06 807.24 686.02 805.92 C687.99 804.59 689.75 802.97 691.32 801.17 C692.88 799.37 694.21 797.29 695.41 795.13 C696.62 792.97 697.62 790.60 698.53 788.23 C699.44 785.87 700.18 783.36 700.86 780.93 C701.55 778.50 702.11 776.05 702.62 773.67 C703.14 771.29 703.59 769.01 703.93 766.67 C704.27 764.32 704.55 762.03 704.67 759.59 C704.80 757.14 704.69 753.25 704.70 751.98" transform="translate(0,-1.5)"/>
</g>
<path d="M481.2 734.5 L533.5 734.5 C533.6 743 530 750.5 524 755 C519 758.6 513 760 507.4 760 C501.8 760 495.8 758.6 490.8 755 C484.8 750.5 481.1 743 481.2 734.5 Z" fill="#0d0d0d"/>
<path d="M481.2 733.2 L533.5 733.2 L533.5 736.4 C525 738.2 490 738.2 481.2 736.4 Z" fill="#161616"/>
<path d="M484 742 C487 752 496 758 507 758.6" fill="none" stroke="#2b2b2b" stroke-width="1" opacity="0.7"/>
<rect x="501.2" y="758.5" width="12.2" height="7.5" rx="1.5" fill="#0e0e0e"/>
<g stroke="#5a5a5a" stroke-width="0.6"><line x1="502.2" y1="761.6" x2="512.4" y2="761.6"/><line x1="502.2" y1="763.9" x2="512.4" y2="763.9"/></g>
<path d="M499.9 766.5 C499.9 765.2 501 764.8 502.5 764.8 L512 764.8 C513.5 764.8 514.4 765.2 514.4 766.5 L514.4 769 C514.4 772.5 511 774.9 507.2 774.9 C503.4 774.9 499.9 772.5 499.9 769 Z" fill="#0c0c0c"/>
<path d="M503 768.2 q2 -1.6 5 -1.2" fill="none" stroke="#4a4a4a" stroke-width="0.8"/>
<path d="M343.70 604.70 C348.85 605.59 354.00 617.90 354.00 632.20 C354.00 640.65 350.50 647.41 348.44 649.10 L338.96 649.10 C336.90 647.41 333.40 640.65 333.40 632.20 C333.40 617.90 338.55 605.59 343.70 604.70 Z" fill="url(#glow)" stroke="#d0c9c4" stroke-width="0.7"/>
<path d="M339.90 618.46 l1.7 -1.6 l1.7 1.4 l1.7 -1.4 l1.5 1.3" fill="none" stroke="#ffdf80" stroke-width="1.4" opacity="0.8" filter="url(#soft)"/>
<path d="M340.30 637.11 l1.7 1.5 l1.7 -1.3 l1.7 1.3 l1.5 -1.4 M343.90 638.31 v5 M341.70 641.71 h4.4" fill="none" stroke="#f5c95a" stroke-width="1.3" opacity="0.85" filter="url(#soft)"/>
<ellipse cx="343.70" cy="629.12" rx="7.73" ry="14.65" fill="url(#fil)"/>
<rect x="338.46" y="648.80" width="10.48" height="5.10" fill="url(#metal)"/>
<rect x="342.50" y="649.10" width="2.4" height="4.60" fill="#4a3a30"/>
<path d="M317.90 708.40 C325.15 711.55 327.85 713.10 332.85 713.70 L355.95 713.70 C360.95 713.10 363.65 711.55 370.90 708.40 Z" fill="#101010"/>
<ellipse cx="344.40" cy="707.60" rx="27.50" ry="3.10" fill="#131313"/>
<ellipse cx="344.40" cy="707.80" rx="25.50" ry="1.80" fill="none" stroke="#343434" stroke-width="0.7"/>
<path d="M336.60 653.20 L350.30 653.20 L350.60 707.00 Q343.75 708.60 336.90 707.00 Z" fill="url(#sleeve)"/>
<rect x="337.50" y="712.70" width="11.20" height="4.50" rx="1.6" fill="#0e0e0e"/>
<rect x="339.50" y="716.70" width="7.20" height="2.2" rx="1" fill="#0e0e0e"/>
<path d="M609.10 602.90 C614.00 603.79 618.90 615.19 618.90 628.50 C618.90 637.85 615.57 645.33 613.61 647.20 L604.59 647.20 C602.63 645.33 599.30 637.85 599.30 628.50 C599.30 615.19 604.20 603.79 609.10 602.90 Z" fill="url(#glow)" stroke="#d0c9c4" stroke-width="0.7"/>
<path d="M605.30 616.63 l1.7 -1.6 l1.7 1.4 l1.7 -1.4 l1.5 1.3" fill="none" stroke="#ffdf80" stroke-width="1.4" opacity="0.8" filter="url(#soft)"/>
<path d="M605.70 635.24 l1.7 1.5 l1.7 -1.3 l1.7 1.3 l1.5 -1.4 M609.30 636.44 v5 M607.10 639.84 h4.4" fill="none" stroke="#f5c95a" stroke-width="1.3" opacity="0.85" filter="url(#soft)"/>
<ellipse cx="609.10" cy="627.26" rx="7.35" ry="14.62" fill="url(#fil)"/>
<rect x="604.09" y="646.90" width="10.02" height="4.80" fill="url(#metal)"/>
<rect x="607.90" y="647.20" width="2.4" height="4.30" fill="#4a3a30"/>
<path d="M585.10 705.90 C592.12 709.32 594.62 711.20 599.62 711.80 L622.09 711.80 C627.09 711.20 629.58 709.32 636.60 705.90 Z" fill="#101010"/>
<ellipse cx="610.85" cy="705.10" rx="26.75" ry="3.10" fill="#131313"/>
<ellipse cx="610.85" cy="705.30" rx="24.75" ry="1.80" fill="none" stroke="#343434" stroke-width="0.7"/>
<path d="M602.50 651.00 L616.00 651.00 L617.50 704.50 Q610.75 706.10 604.00 704.50 Z" fill="url(#sleeve)"/>
<rect x="605.70" y="710.80" width="10.30" height="3.70" rx="1.6" fill="#0e0e0e"/>
<rect x="607.70" y="714.00" width="6.30" height="2.2" rx="1" fill="#0e0e0e"/>
<path d="M227.40 607.10 C232.75 608.07 238.10 620.01 238.10 634.00 C238.10 644.75 234.46 653.35 232.32 655.50 L222.48 655.50 C220.34 653.35 216.70 644.75 216.70 634.00 C216.70 620.01 222.05 608.07 227.40 607.10 Z" fill="url(#glow)" stroke="#d0c9c4" stroke-width="0.7"/>
<path d="M223.60 622.10 l1.7 -1.6 l1.7 1.4 l1.7 -1.4 l1.5 1.3" fill="none" stroke="#ffdf80" stroke-width="1.4" opacity="0.8" filter="url(#soft)"/>
<path d="M224.00 642.43 l1.7 1.5 l1.7 -1.3 l1.7 1.3 l1.5 -1.4 M227.60 643.63 v5 M225.40 647.03 h4.4" fill="none" stroke="#f5c95a" stroke-width="1.3" opacity="0.85" filter="url(#soft)"/>
<ellipse cx="227.40" cy="633.72" rx="8.02" ry="15.97" fill="url(#fil)"/>
<rect x="221.98" y="655.20" width="10.84" height="5.50" fill="url(#metal)"/>
<rect x="226.20" y="655.50" width="2.4" height="5.00" fill="#4a3a30"/>
<path d="M195.70 720.80 C203.88 724.80 207.45 727.40 212.45 728.00 L238.15 728.00 C243.15 727.40 246.72 724.80 254.90 720.80 Z" fill="#101010"/>
<ellipse cx="225.30" cy="720.00" rx="30.60" ry="3.10" fill="#131313"/>
<ellipse cx="225.30" cy="720.20" rx="28.60" ry="1.80" fill="none" stroke="#343434" stroke-width="0.7"/>
<path d="M221.00 660.00 L235.60 660.00 L233.70 720.00 Q226.40 721.60 219.10 720.00 Z" fill="url(#sleeve)"/>
<rect x="219.70" y="727.00" width="11.30" height="4.00" rx="1.6" fill="#0e0e0e"/>
<rect x="221.70" y="730.50" width="7.30" height="2.2" rx="1" fill="#0e0e0e"/>
<path d="M780.00 608.70 C785.48 609.67 790.95 621.90 790.95 636.20 C790.95 646.70 787.23 655.10 785.04 657.20 L774.96 657.20 C772.77 655.10 769.05 646.70 769.05 636.20 C769.05 621.90 774.52 609.67 780.00 608.70 Z" fill="url(#glow)" stroke="#d0c9c4" stroke-width="0.7"/>
<path d="M776.20 623.74 l1.7 -1.6 l1.7 1.4 l1.7 -1.4 l1.5 1.3" fill="none" stroke="#ffdf80" stroke-width="1.4" opacity="0.8" filter="url(#soft)"/>
<path d="M776.60 644.11 l1.7 1.5 l1.7 -1.3 l1.7 1.3 l1.5 -1.4 M780.20 645.31 v5 M778.00 648.71 h4.4" fill="none" stroke="#f5c95a" stroke-width="1.3" opacity="0.85" filter="url(#soft)"/>
<ellipse cx="780.00" cy="635.38" rx="8.21" ry="16.00" fill="url(#fil)"/>
<rect x="774.46" y="656.90" width="11.07" height="4.80" fill="url(#metal)"/>
<rect x="778.80" y="657.20" width="2.4" height="4.30" fill="#4a3a30"/>
<path d="M751.60 722.00 C759.59 725.69 762.97 727.90 767.97 728.50 L793.13 728.50 C798.13 727.90 801.51 725.69 809.50 722.00 Z" fill="#101010"/>
<ellipse cx="780.55" cy="721.20" rx="29.95" ry="3.10" fill="#131313"/>
<ellipse cx="780.55" cy="721.40" rx="27.95" ry="1.80" fill="none" stroke="#343434" stroke-width="0.7"/>
<path d="M772.20 661.00 L787.30 661.00 L788.20 721.00 Q780.65 722.60 773.10 721.00 Z" fill="url(#sleeve)"/>
<rect x="775.00" y="727.50" width="11.20" height="4.00" rx="1.6" fill="#0e0e0e"/>
<rect x="777.00" y="731.00" width="7.20" height="2.2" rx="1" fill="#0e0e0e"/>
<path d="M401.90 616.00 C407.40 616.96 412.90 629.78 412.90 644.70 C412.90 654.40 409.16 662.16 406.96 664.10 L396.84 664.10 C394.64 662.16 390.90 654.40 390.90 644.70 C390.90 629.78 396.40 616.96 401.90 616.00 Z" fill="url(#glow)" stroke="#d0c9c4" stroke-width="0.7"/>
<path d="M398.10 630.91 l1.7 -1.6 l1.7 1.4 l1.7 -1.4 l1.5 1.3" fill="none" stroke="#ffdf80" stroke-width="1.4" opacity="0.8" filter="url(#soft)"/>
<path d="M398.50 651.11 l1.7 1.5 l1.7 -1.3 l1.7 1.3 l1.5 -1.4 M402.10 652.31 v5 M399.90 655.71 h4.4" fill="none" stroke="#f5c95a" stroke-width="1.3" opacity="0.85" filter="url(#soft)"/>
<ellipse cx="401.90" cy="642.46" rx="8.25" ry="15.87" fill="url(#fil)"/>
<rect x="396.34" y="663.80" width="11.12" height="5.10" fill="url(#metal)"/>
<rect x="400.70" y="664.10" width="2.4" height="4.60" fill="#4a3a30"/>
<path d="M367.00 738.30 C375.88 742.62 380.11 745.60 385.11 746.20 L412.79 746.20 C417.79 745.60 422.01 742.62 430.90 738.30 Z" fill="#101010"/>
<ellipse cx="398.95" cy="737.50" rx="32.95" ry="3.10" fill="#131313"/>
<ellipse cx="398.95" cy="737.70" rx="30.95" ry="1.80" fill="none" stroke="#343434" stroke-width="0.7"/>
<path d="M392.50 668.20 L409.40 668.20 L408.70 737.50 Q400.25 739.10 391.80 737.50 Z" fill="url(#sleeve)"/>
<rect x="391.20" y="745.20" width="15.00" height="3.90" rx="1.6" fill="#0e0e0e"/>
<rect x="393.20" y="748.60" width="11.00" height="2.2" rx="1" fill="#0e0e0e"/>
<path d="M705.60 621.90 C711.02 622.86 716.45 635.39 716.45 650.00 C716.45 660.00 712.76 668.00 710.59 670.00 L700.61 670.00 C698.44 668.00 694.75 660.00 694.75 650.00 C694.75 635.39 700.18 622.86 705.60 621.90 Z" fill="url(#glow)" stroke="#d0c9c4" stroke-width="0.7"/>
<path d="M701.80 636.81 l1.7 -1.6 l1.7 1.4 l1.7 -1.4 l1.5 1.3" fill="none" stroke="#ffdf80" stroke-width="1.4" opacity="0.8" filter="url(#soft)"/>
<path d="M702.20 657.01 l1.7 1.5 l1.7 -1.3 l1.7 1.3 l1.5 -1.4 M705.80 658.21 v5 M703.60 661.61 h4.4" fill="none" stroke="#f5c95a" stroke-width="1.3" opacity="0.85" filter="url(#soft)"/>
<ellipse cx="705.60" cy="648.36" rx="8.14" ry="15.87" fill="url(#fil)"/>
<rect x="700.11" y="669.70" width="10.98" height="4.70" fill="url(#metal)"/>
<rect x="704.40" y="670.00" width="2.4" height="4.20" fill="#4a3a30"/>
<path d="M672.20 741.90 C681.30 745.72 685.72 748.10 690.72 748.70 L718.98 748.70 C723.98 748.10 728.40 745.72 737.50 741.90 Z" fill="#101010"/>
<ellipse cx="704.85" cy="741.10" rx="33.65" ry="3.10" fill="#131313"/>
<ellipse cx="704.85" cy="741.30" rx="31.65" ry="1.80" fill="none" stroke="#343434" stroke-width="0.7"/>
<path d="M696.60 673.70 L713.10 673.70 L712.70 741.00 Q704.45 742.60 696.20 741.00 Z" fill="url(#sleeve)"/>
<rect x="698.70" y="747.70" width="12.50" height="4.50" rx="1.6" fill="#0e0e0e"/>
<rect x="700.70" y="751.70" width="8.50" height="2.2" rx="1" fill="#0e0e0e"/>
<g stroke="#0a0a0a" stroke-width="1.75" fill="none" stroke-linecap="round">
<line x1="340.6" y1="711.8" x2="232.9" y2="826.1"/>
<line x1="609.5" y1="630.7" x2="751.8" y2="826.1"/>
</g>
<circle cx="609.5" cy="630.7" r="4.1" fill="#000"/><circle cx="340.6" cy="711.8" r="3.6" fill="#000"/>
<g font-family="'Liberation Sans', Arial, sans-serif" fill="#0b0b0b" stroke="#0b0b0b" stroke-width="0.45" stroke-linejoin="round" text-rendering="geometricPrecision" font-size="34.1">
<text><tspan x="85.78" y="125.20" textLength="130.58" lengthAdjust="spacingAndGlyphs">SLOPED</tspan> <tspan x="221.73" y="125.20" textLength="129.76" lengthAdjust="spacingAndGlyphs">CEILING</tspan> <tspan x="114.79" y="165.80" textLength="208.19" lengthAdjust="spacingAndGlyphs">COMPATIBLE</tspan></text>
<text><tspan x="730.42" y="124.60" textLength="128.96" lengthAdjust="spacingAndGlyphs">ON/OFF</tspan> <tspan x="684.63" y="165.00" textLength="87.04" lengthAdjust="spacingAndGlyphs">WALL</tspan> <tspan x="778.00" y="165.00" textLength="129.09" lengthAdjust="spacingAndGlyphs">SWITCH</tspan></text>
<text><tspan x="151.75" y="461.40" textLength="132.83" lengthAdjust="spacingAndGlyphs">DIMMER</tspan> <tspan x="114.89" y="502.00" textLength="207.44" lengthAdjust="spacingAndGlyphs">COMPATIBLE</tspan></text>
<text><tspan x="742.76" y="461.70" textLength="205.86" lengthAdjust="spacingAndGlyphs">ADJUSTABLE</tspan> <tspan x="786.25" y="502.00" textLength="122.41" lengthAdjust="spacingAndGlyphs">HEIGHT</tspan></text>
<text><tspan x="174.76" y="876.80" textLength="84.66" lengthAdjust="spacingAndGlyphs">EASY</tspan> <tspan x="132.32" y="917.70" textLength="171.37" lengthAdjust="spacingAndGlyphs">ASSEMBLY</tspan></text>
<text><tspan x="678.84" y="878.70" textLength="63.37" lengthAdjust="spacingAndGlyphs">LED</tspan> <tspan x="748.70" y="878.70" textLength="126.72" lengthAdjust="spacingAndGlyphs">BULB(S)</tspan> <tspan x="695.53" y="919.90" textLength="164.05" lengthAdjust="spacingAndGlyphs">INCLUDED</tspan></text>
</g>
</svg>
</body></html>
